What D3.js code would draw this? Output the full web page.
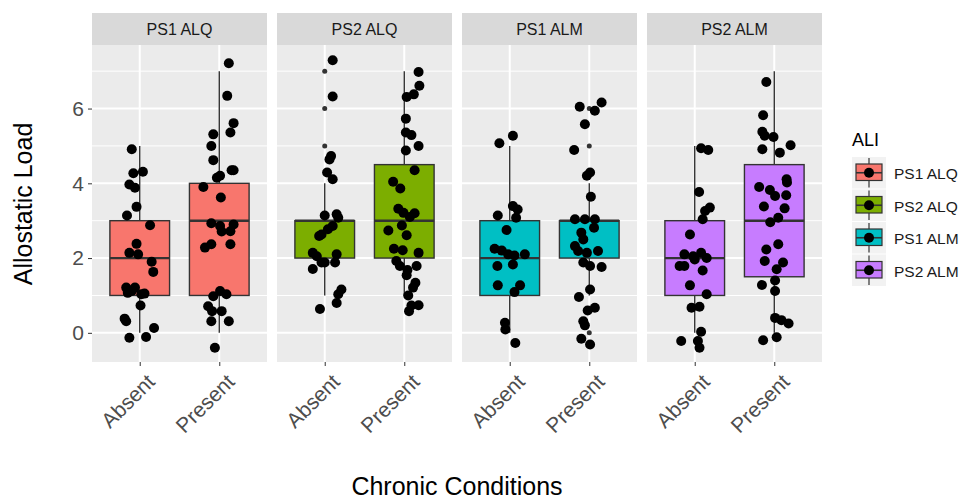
<!DOCTYPE html>
<html>
<head>
<meta charset="utf-8">
<script src="https://cdn.jsdelivr.net/npm/d3@7"></script>
<style>
  body { margin: 0; background: #fff; }
  text { font-family: "Liberation Sans", Arial, sans-serif; }
</style>
</head>
<body>
<div id="chart-container"></div>
<script>
// facets and categories
const facets = ["PS1 ALQ", "PS2 ALQ", "PS1 ALM", "PS2 ALM"];
const categories = ["Absent", "Present"];
const fills = ["#F8766D", "#7CAE00", "#00BFC4", "#C77CFF"];
const yTicks = [0, 2, 4, 6];
const yMinor = [1, 3, 5, 7];

// box stats per facet: [Absent, Present], each [lower whisker, q1, median, q3, upper whisker]
const boxStats = [
  [[0, 1, 2, 3, 5], [0, 1, 3, 4, 7]],
  [[1, 2, 3, 3, 4], [1, 2, 3, 4.5, 7]],
  [[0, 1, 2, 3, 5], [1, 2, 3, 3, 4]],
  [[0, 1, 2, 3, 5], [0, 1.5, 3, 4.5, 7]]
];

// outliers drawn by the boxplot
const outliers = [
  [[], []],
  [[7, 6, 5], []],
  [[], [6, 5, 0]],
  [[], []]
];

// jittered points: [value, horizontal jitter in category units]
const ps1AlqAbsent = [[4.91,-0.10],[4.27,-0.08],[4.31,0.04],[3.97,-0.13],[3.88,-0.06],[3.37,-0.04],[3.14,-0.16],[2.88,0.13],[2.38,-0.04],[2.14,-0.13],[2.10,-0.02],[1.90,0.15],[1.63,0.17],[1.21,-0.17],[1.21,-0.06],[1.12,-0.10],[1.07,-0.15],[1.03,0.02],[1.05,0.06],[0.73,0.01],[0.38,-0.19],[0.31,-0.17],[0.13,0.18],[-0.13,-0.13],[-0.11,0.08]];
const ps1AlqPresent = [[7.21,0.12],[6.34,0.10],[5.61,0.18],[5.36,0.14],[5.31,-0.075],[5.0,-0.10],[4.62,-0.075],[4.35,0.155],[4.35,0.18],[4.15,-0.03],[4.20,0.01],[3.90,-0.20],[3.62,0.02],[2.93,-0.10],[2.86,0.01],[2.90,0.18],[2.71,0.03],[2.72,0.14],[2.37,-0.10],[2.28,-0.18],[2.37,0.14],[1.12,0.01],[1.03,0.09],[0.98,-0.075],[0.71,-0.14],[0.58,0.03],[0.58,-0.09],[0.31,-0.10],[0.31,0.12],[-0.40,-0.055]];
const ps2AlqAbsent = [[7.29,0.10],[6.32,0.10],[4.73,0.08],[4.64,0.06],[4.29,0.03],[4.11,0.10],[3.14,0],[3.17,0.15],[3.08,0.17],[2.86,0.10],[2.77,0.04],[2.63,-0.04],[2.59,-0.07],[2.14,-0.15],[2.05,-0.10],[1.88,0],[1.88,-0.04],[2.10,0.15],[1.88,0.13],[1.71,-0.15],[1.16,0.21],[1.03,0.17],[0.80,0.15],[0.64,-0.06]];
const ps2AlqPresent = [[6.98,0.18],[6.61,0.19],[6.38,0.12],[6.31,0.03],[5.73,0.02],[5.36,0.02],[5.29,0.09],[5.0,0.18],[4.88,0.02],[4.35,0.13],[4.04,-0.14],[3.86,-0.05],[3.32,-0.075],[3.21,-0.01],[3.20,0.13],[3.10,0.07],[2.87,-0.03],[2.74,-0.20],[2.61,0.03],[2.25,-0.13],[2.21,-0.02],[2.14,0.18],[1.92,-0.10],[1.79,-0.055],[1.68,0.04],[1.79,0.155],[1.54,0.03],[1.34,0.14],[1.21,0.11],[1.0,0.05],[0.73,0.09],[0.74,0.18],[0.58,0.06]];
const ps1AlmAbsent = [[5.27,0.04],[5.07,-0.13],[3.39,0.04],[3.30,0.10],[3.14,-0.15],[3.08,0.08],[2.75,-0.04],[2.25,-0.19],[2.20,-0.10],[2.10,-0.02],[2.07,0.06],[2.10,0.19],[1.79,-0.155],[1.83,0.04],[1.27,-0.15],[1.27,0.13],[1.09,0.06],[0.27,-0.06],[0.09,-0.055],[-0.27,0.07]];
const ps1AlmPresent = [[6.16,0.155],[6.05,-0.12],[5.94,0.07],[5.58,-0.055],[4.89,-0.19],[4.20,-0.03],[4.29,0.01],[3.64,0.02],[3.04,-0.18],[3.04,-0.055],[3.04,0.07],[2.81,0.06],[2.68,-0.10],[2.50,-0.075],[2.32,-0.18],[2.19,-0.14],[2.14,-0.03],[2.19,0.11],[1.88,-0.075],[1.79,0.01],[1.76,0.155],[1.16,0.01],[0.96,-0.13],[0.67,0.07],[0.60,-0.02],[0.31,-0.075],[0.20,-0.055],[-0.16,-0.10],[-0.31,0.01]];
const ps2AlmAbsent = [[4.94,0.08],[4.89,0.17],[3.77,0.055],[3.35,0.19],[3.26,0.13],[3.04,0.10],[2.63,-0.06],[2.10,-0.13],[2.05,-0.02],[2.14,0.08],[2.0,0.15],[1.79,-0.19],[1.79,-0.13],[1.96,0],[1.67,0.10],[1.27,-0.06],[1.03,0.15],[0.67,-0.04],[0.70,0.06],[0.03,0.08],[-0.22,-0.17],[-0.22,0.04],[-0.40,0.06]];
const ps2AlmPresent = [[6.71,-0.10],[5.82,-0.14],[5.38,-0.15],[5.27,-0.12],[5.24,-0.01],[4.91,-0.15],[5.02,0.205],[4.82,0.07],[4.11,0.155],[4.02,0.16],[3.90,-0.19],[3.82,-0.055],[3.66,0.01],[3.68,0.15],[3.38,-0.13],[3.33,0.13],[3.08,0.05],[2.96,-0.05],[2.23,-0.10],[2.37,0.05],[1.92,-0.12],[1.88,0.11],[1.70,0.03],[1.28,-0.155],[1.40,0.01],[1.12,0.01],[0.40,0.01],[0.34,0.09],[0.25,0.18],[-0.20,-0.14],[-0.12,0.03]];

const points = [
  [ps1AlqAbsent, ps1AlqPresent],
  [ps2AlqAbsent, ps2AlqPresent],
  [ps1AlmAbsent, ps1AlmPresent],
  [ps2AlmAbsent, ps2AlmPresent]
];

const width = 964, height = 500;
const panelTop = 45, panelBottom = 362, stripTop = 13;

const svg = d3.select("#chart-container")
  .append("svg")
  .attr("width", width)
  .attr("height", height);

const facetScale = d3.scaleBand()
  .domain(facets)
  .range([92, 822])
  .paddingInner(10 / 185)
  .paddingOuter(0);

const panelW = facetScale.bandwidth();

const xInner = d3.scalePoint()
  .domain(categories)
  .range([0, panelW])
  .padding(0.6);

const step = xInner.step();

const y = d3.scaleLinear()
  .domain([-0.78, 7.7])
  .range([panelBottom, panelTop]);

// y axis
const yAxis = svg.append("g")
  .attr("transform", `translate(92,0)`)
  .call(d3.axisLeft(y).tickValues(yTicks).tickSize(4).tickPadding(4));
yAxis.select(".domain").remove();
yAxis.selectAll("line").attr("stroke", "#333").attr("stroke-width", 1);
yAxis.selectAll("text").attr("fill", "#4d4d4d").style("font-size", "21px")
  .style("font-family", "Liberation Sans, Arial, sans-serif");

facets.forEach((f, i) => {
  const g = svg.append("g").attr("transform", `translate(${facetScale(f)},0)`);

  // strip
  g.append("rect")
    .attr("x", 0).attr("y", stripTop)
    .attr("width", panelW).attr("height", panelTop - stripTop)
    .attr("fill", "#d9d9d9");
  g.append("text")
    .attr("x", panelW / 2).attr("y", (stripTop + panelTop) / 2 + 5.5)
    .attr("text-anchor", "middle")
    .attr("fill", "#1a1a1a")
    .style("font-size", "16px")
    .text(f);

  // panel background
  g.append("rect")
    .attr("x", 0).attr("y", panelTop)
    .attr("width", panelW).attr("height", panelBottom - panelTop)
    .attr("fill", "#ebebeb");

  g.selectAll(".minor")
    .data(yMinor).enter().append("line")
    .attr("x1", 0).attr("x2", panelW)
    .attr("y1", d => y(d)).attr("y2", d => y(d))
    .attr("stroke", "#fff").attr("stroke-width", 1);
  g.selectAll(".major")
    .data(yTicks).enter().append("line")
    .attr("x1", 0).attr("x2", panelW)
    .attr("y1", d => y(d)).attr("y2", d => y(d))
    .attr("stroke", "#fff").attr("stroke-width", 2);
  g.selectAll(".vmajor")
    .data(categories).enter().append("line")
    .attr("x1", d => xInner(d)).attr("x2", d => xInner(d))
    .attr("y1", panelTop).attr("y2", panelBottom)
    .attr("stroke", "#fff").attr("stroke-width", 2);

  // boxes
  const boxW = 0.75 * step;
  categories.forEach((c, j) => {
    const s = boxStats[i][j];
    const cx = xInner(c);
    g.append("line")
      .attr("x1", cx).attr("x2", cx)
      .attr("y1", y(s[0])).attr("y2", y(s[4]))
      .attr("stroke", "#333").attr("stroke-width", 1.4);
    g.append("rect")
      .attr("x", cx - boxW / 2).attr("width", boxW)
      .attr("y", y(s[3])).attr("height", y(s[1]) - y(s[3]))
      .attr("fill", fills[i])
      .attr("stroke", "#333").attr("stroke-width", 1.4);
    g.append("line")
      .attr("x1", cx - boxW / 2).attr("x2", cx + boxW / 2)
      .attr("y1", y(s[2])).attr("y2", y(s[2]))
      .attr("stroke", "#333").attr("stroke-width", 2.4);

    g.selectAll(null)
      .data(outliers[i][j]).enter().append("circle")
      .attr("cx", cx).attr("cy", d => y(d))
      .attr("r", 2.5).attr("fill", "#333");

    g.selectAll(null)
      .data(points[i][j]).enter().append("circle")
      .attr("cx", d => cx + d[1] * step)
      .attr("cy", d => y(d[0]))
      .attr("r", 5).attr("fill", "#000");
  });

  // x axis
  const xAxis = g.append("g")
    .attr("transform", `translate(0,${panelBottom})`)
    .call(d3.axisBottom(xInner).tickSize(4).tickPadding(0));
  xAxis.select(".domain").remove();
  xAxis.selectAll("line").attr("stroke", "#333").attr("stroke-width", 1);
  xAxis.selectAll("text")
    .attr("fill", "#4d4d4d")
    .style("font-size", "21px")
    .style("font-family", "Liberation Sans, Arial, sans-serif")
    .attr("text-anchor", "end")
    .attr("dy", null)
    .attr("y", 0)
    .attr("transform", "translate(16,21) rotate(-45)");
});

// axis titles
svg.append("text")
  .attr("transform", "translate(32,204) rotate(-90)")
  .attr("text-anchor", "middle")
  .style("font-size", "25px")
  .text("Allostatic Load");

svg.append("text")
  .attr("x", 457).attr("y", 495)
  .attr("text-anchor", "middle")
  .style("font-size", "25px")
  .text("Chronic Conditions");

// legend
const legend = svg.append("g").attr("transform", "translate(852,0)");
legend.append("text")
  .attr("x", 0).attr("y", 146)
  .style("font-size", "18px")
  .text("ALI");

const keyY = d3.scaleBand().domain(facets).range([157, 287]);
facets.forEach((f, i) => {
  const ky = keyY(f), kh = keyY.bandwidth();
  const k = legend.append("g").attr("transform", `translate(0,${ky})`);
  k.append("rect").attr("x", 0).attr("y", 0).attr("width", 34).attr("height", kh - 1).attr("fill", "#f2f2f2");
  k.append("line").attr("x1", 17).attr("x2", 17).attr("y1", 1).attr("y2", kh - 2)
    .attr("stroke", "#333").attr("stroke-width", 1.2);
  k.append("rect").attr("x", 4).attr("y", 7).attr("width", 26).attr("height", kh - 16)
    .attr("fill", fills[i]).attr("stroke", "#333").attr("stroke-width", 1.2);
  k.append("line").attr("x1", 4).attr("x2", 30).attr("y1", (kh - 1) / 2).attr("y2", (kh - 1) / 2)
    .attr("stroke", "#333").attr("stroke-width", 1.6);
  k.append("circle").attr("cx", 17).attr("cy", (kh - 1) / 2).attr("r", 5).attr("fill", "#000");
  k.append("text").attr("x", 42).attr("y", kh / 2 + 6)
    .attr("fill", "#1a1a1a")
    .style("font-size", "15.5px")
    .text(f);
});
</script>
</body>
</html>
